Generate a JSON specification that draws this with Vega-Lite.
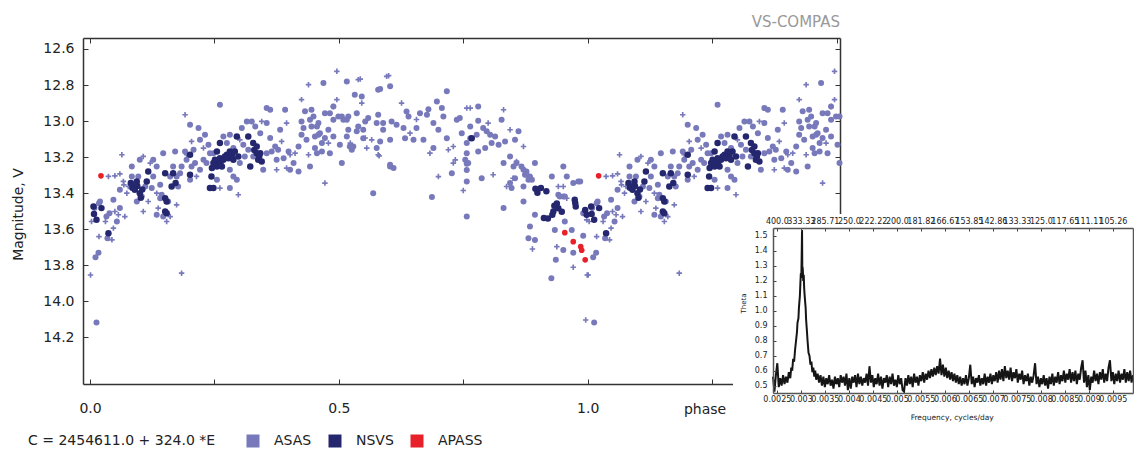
{
"$schema":"https://vega.github.io/schema/vega-lite/v6.json",
"autosize":"none",
"width":757,"height":346,
"padding":{"left":83,"top":38,"right":294,"bottom":67},
"background":"white",
"config":{"font":"DejaVu Sans","view":{"stroke":null},"axis":{"grid":false,"labelFlush":false,"labelBound":false,"labelOverlap":false}},
"title":{"text":"VS-COMPAS","anchor":"end","frame":"group","fontSize":15,"fontWeight":"normal","color":"#999999","offset":8},
"datasets":{
"ac":[{"p":0.001,"m":13.854},{"p":0.003,"m":13.557},{"p":0.018,"m":13.641},{"p":0.031,"m":13.557},{"p":0.037,"m":13.307},{"p":0.044,"m":13.659},{"p":0.047,"m":13.594},{"p":0.05,"m":13.304},{"p":0.05,"m":13.502},{"p":0.057,"m":13.52},{"p":0.06,"m":13.293},{"p":0.064,"m":13.187},{"p":0.067,"m":13.335},{"p":0.068,"m":13.354},{"p":0.07,"m":13.53},{"p":0.074,"m":13.4},{"p":0.077,"m":13.363},{"p":0.107,"m":13.502},{"p":0.107,"m":13.196},{"p":0.117,"m":13.446},{"p":0.121,"m":13.233},{"p":0.134,"m":13.4},{"p":0.137,"m":13.483},{"p":0.154,"m":13.557},{"p":0.161,"m":13.53},{"p":0.174,"m":13.465},{"p":0.184,"m":13.844},{"p":0.191,"m":12.965},{"p":0.194,"m":13.187},{"p":0.204,"m":13.113},{"p":0.214,"m":13.307},{"p":0.228,"m":13.15},{"p":0.261,"m":13.372},{"p":0.298,"m":13.409},{"p":0.301,"m":13.104},{"p":0.345,"m":13.002},{"p":0.375,"m":13.27},{"p":0.385,"m":13.113},{"p":0.395,"m":13.011},{"p":0.395,"m":13.261},{"p":0.402,"m":13.187},{"p":0.412,"m":13.178},{"p":0.425,"m":12.881},{"p":0.439,"m":12.798},{"p":0.439,"m":13.187},{"p":0.472,"m":13.344},{"p":0.479,"m":13.122},{"p":0.489,"m":12.919},{"p":0.496,"m":12.724},{"p":0.496,"m":12.881},
{"p":0.523,"m":13.122},{"p":0.539,"m":12.77},{"p":0.543,"m":12.767},{"p":0.546,"m":12.9},{"p":0.553,"m":13.094},{"p":0.556,"m":13.15},{"p":0.566,"m":13.104},{"p":0.579,"m":13.187},{"p":0.581,"m":13.193},{"p":0.596,"m":12.752},{"p":0.6,"m":12.748},{"p":0.626,"m":12.9},{"p":0.643,"m":13.067},{"p":0.656,"m":12.991},{"p":0.683,"m":13.178},{"p":0.7,"m":13.308},{"p":0.72,"m":13.159},{"p":0.73,"m":13.141},{"p":0.73,"m":13.233},{"p":0.734,"m":13.215},{"p":0.75,"m":13.385},{"p":0.757,"m":12.928},{"p":0.764,"m":12.928},{"p":0.8,"m":13.011},{"p":0.81,"m":13.298},{"p":0.831,"m":12.937},{"p":0.837,"m":13.363},{"p":0.844,"m":13.048},{"p":0.85,"m":13.317},{"p":0.857,"m":13.224},{"p":0.871,"m":13.141},{"p":0.889,"m":13.71},{"p":0.938,"m":13.697},{"p":0.941,"m":13.363},{"p":0.951,"m":13.363},{"p":0.958,"m":13.428},{"p":0.971,"m":13.811},{"p":0.996,"m":14.104},{"p":0.998,"m":13.548},{"p":0.999,"m":13.854},
{"p":1.001,"m":13.854},{"p":1.003,"m":13.557},{"p":1.018,"m":13.641},{"p":1.031,"m":13.557},{"p":1.037,"m":13.307},{"p":1.044,"m":13.659},{"p":1.047,"m":13.594},{"p":1.05,"m":13.304},{"p":1.05,"m":13.502},{"p":1.057,"m":13.52},{"p":1.06,"m":13.293},{"p":1.064,"m":13.187},{"p":1.067,"m":13.335},{"p":1.068,"m":13.354},{"p":1.07,"m":13.53},{"p":1.074,"m":13.4},{"p":1.077,"m":13.363},{"p":1.107,"m":13.502},{"p":1.107,"m":13.196},{"p":1.117,"m":13.446},{"p":1.121,"m":13.233},{"p":1.134,"m":13.4},{"p":1.137,"m":13.483},{"p":1.154,"m":13.557},{"p":1.161,"m":13.53},{"p":1.174,"m":13.465},{"p":1.184,"m":13.844},{"p":1.191,"m":12.965},{"p":1.194,"m":13.187},{"p":1.204,"m":13.113},{"p":1.214,"m":13.307},{"p":1.228,"m":13.15},{"p":1.261,"m":13.372},{"p":1.298,"m":13.409},{"p":1.301,"m":13.104},{"p":1.345,"m":13.002},{"p":1.375,"m":13.27},{"p":1.385,"m":13.113},{"p":1.395,"m":13.011},{"p":1.395,"m":13.261},{"p":1.402,"m":13.187},{"p":1.412,"m":13.178},{"p":1.425,"m":12.881},{"p":1.439,"m":12.798},{"p":1.439,"m":13.187},{"p":1.472,"m":13.344},{"p":1.479,"m":13.122},{"p":1.489,"m":12.919},{"p":1.496,"m":12.724},{"p":1.496,"m":12.881}],
"ad":[{"p":0.009,"m":13.483},{"p":0.011,"m":13.756},{"p":0.013,"m":14.118},{"p":0.017,"m":13.73},{"p":0.018,"m":13.456},{"p":0.02,"m":13.446},{"p":0.033,"m":13.53},{"p":0.035,"m":13.65},{"p":0.039,"m":13.511},{"p":0.047,"m":13.437},{"p":0.054,"m":13.557},{"p":0.06,"m":13.483},{"p":0.06,"m":13.381},{"p":0.084,"m":13.307},{"p":0.084,"m":13.252},{"p":0.094,"m":13.446},{"p":0.097,"m":13.307},{"p":0.1,"m":13.215},{"p":0.104,"m":13.419},{"p":0.111,"m":13.363},{"p":0.124,"m":13.372},{"p":0.127,"m":13.307},{"p":0.127,"m":13.215},{"p":0.134,"m":13.52},{"p":0.134,"m":13.252},{"p":0.141,"m":13.428},{"p":0.141,"m":13.354},{"p":0.144,"m":13.409},{"p":0.147,"m":13.53},{"p":0.147,"m":13.178},{"p":0.157,"m":13.446},{"p":0.161,"m":13.307},{"p":0.167,"m":13.252},{"p":0.171,"m":13.169},{"p":0.174,"m":13.307},{"p":0.177,"m":13.363},{"p":0.181,"m":13.289},{"p":0.184,"m":13.252},{"p":0.191,"m":13.169},{"p":0.194,"m":13.215},{"p":0.201,"m":13.326},{"p":0.201,"m":13.02},{"p":0.204,"m":13.252},{"p":0.208,"m":13.159},{"p":0.211,"m":13.233},{"p":0.218,"m":13.039},{"p":0.221,"m":13.104},{"p":0.221,"m":13.27},{"p":0.228,"m":13.215},{"p":0.231,"m":13.076},{"p":0.234,"m":13.233},{"p":0.238,"m":13.131},{"p":0.241,"m":13.178},{"p":0.248,"m":13.178},{"p":0.255,"m":13.326},{"p":0.261,"m":12.909},{"p":0.268,"m":13.085},{"p":0.275,"m":13.122},{"p":0.281,"m":13.27},{"p":0.281,"m":13.372},{"p":0.281,"m":13.076},{"p":0.288,"m":13.307},{"p":0.288,"m":13.15},{"p":0.295,"m":13.326},{"p":0.301,"m":13.233},{"p":0.305,"m":13.039},{"p":0.308,"m":13.131},{"p":0.311,"m":13.196},{"p":0.315,"m":13.002},{"p":0.318,"m":13.159},{"p":0.325,"m":13.002},{"p":0.328,"m":13.196},{"p":0.332,"m":13.03},{"p":0.342,"m":13.067},{"p":0.348,"m":13.27},{"p":0.355,"m":12.928},{"p":0.355,"m":13.011},{"p":0.355,"m":13.178},{"p":0.362,"m":12.937},{"p":0.362,"m":13.094},{"p":0.365,"m":13.169},{"p":0.372,"m":13.141},{"p":0.375,"m":13.215},{"p":0.378,"m":13.159},{"p":0.382,"m":13.048},{"p":0.389,"m":13.206},{"p":0.392,"m":12.937},{"p":0.399,"m":13.169},{"p":0.402,"m":13.27},{"p":0.409,"m":13.233},{"p":0.419,"m":13.28},{"p":0.419,"m":13.141},{"p":0.425,"m":13.076},{"p":0.425,"m":13.002},{"p":0.429,"m":13.039},{"p":0.432,"m":12.946},{"p":0.435,"m":13.104},{"p":0.442,"m":13.252},{"p":0.442,"m":12.993},{"p":0.445,"m":12.937},{"p":0.445,"m":13.03},{"p":0.449,"m":12.974},{"p":0.452,"m":13.15},{"p":0.452,"m":13.085},{"p":0.456,"m":13.03},{"p":0.456,"m":13.178},{"p":0.459,"m":13.011},{"p":0.459,"m":13.076},{"p":0.462,"m":13.067},{"p":0.466,"m":13.122},{"p":0.466,"m":13.169},{"p":0.469,"m":12.789},{"p":0.472,"m":12.956},{"p":0.472,"m":13.094},{"p":0.479,"m":13.048},{"p":0.482,"m":13.178},{"p":0.482,"m":12.956},{"p":0.489,"m":13.085},{"p":0.489,"m":12.993},{"p":0.489,"m":12.919},{"p":0.499,"m":12.974},{"p":0.502,"m":13.131},{"p":0.506,"m":13.233},{"p":0.506,"m":12.974},
{"p":0.509,"m":12.993},{"p":0.516,"m":12.78},{"p":0.516,"m":13.085},{"p":0.516,"m":12.993},{"p":0.519,"m":12.974},{"p":0.519,"m":13.048},{"p":0.522,"m":13.141},{"p":0.526,"m":13.159},{"p":0.529,"m":13.141},{"p":0.532,"m":12.854},{"p":0.536,"m":12.956},{"p":0.536,"m":13.057},{"p":0.539,"m":13.03},{"p":0.546,"m":12.863},{"p":0.549,"m":13.048},{"p":0.549,"m":13.095},{"p":0.553,"m":13.002},{"p":0.559,"m":12.983},{"p":0.569,"m":13.4},{"p":0.576,"m":13.15},{"p":0.576,"m":13.011},{"p":0.579,"m":12.826},{"p":0.579,"m":12.965},{"p":0.583,"m":12.822},{"p":0.583,"m":13.113},{"p":0.589,"m":13.011},{"p":0.589,"m":13.048},{"p":0.603,"m":12.807},{"p":0.603,"m":13.243},{"p":0.603,"m":13.104},{"p":0.603,"m":13.252},{"p":0.606,"m":13.002},{"p":0.61,"m":13.261},{"p":0.616,"m":13.021},{"p":0.63,"m":13.039},{"p":0.633,"m":13.095},{"p":0.636,"m":12.947},{"p":0.64,"m":12.974},{"p":0.65,"m":13.104},{"p":0.656,"m":13.039},{"p":0.663,"m":12.956},{"p":0.67,"m":13.104},{"p":0.677,"m":12.965},{"p":0.68,"m":12.934},{"p":0.687,"m":13.422},{"p":0.69,"m":13.011},{"p":0.69,"m":13.15},{"p":0.697,"m":12.891},{"p":0.7,"m":13.048},{"p":0.707,"m":12.928},{"p":0.71,"m":12.974},{"p":0.717,"m":12.835},{"p":0.717,"m":13.095},{"p":0.727,"m":13.289},{"p":0.737,"m":12.993},{"p":0.743,"m":12.983},{"p":0.747,"m":13.067},{"p":0.754,"m":13.215},{"p":0.757,"m":13.122},{"p":0.757,"m":13.178},{"p":0.757,"m":13.237},{"p":0.757,"m":13.271},{"p":0.757,"m":13.335},{"p":0.757,"m":13.53},{"p":0.76,"m":13.233},{"p":0.764,"m":13.03},{"p":0.764,"m":13.095},{"p":0.777,"m":13.076},{"p":0.78,"m":12.919},{"p":0.78,"m":12.998},{"p":0.78,"m":13.169},{"p":0.787,"m":13.317},{"p":0.79,"m":13.039},{"p":0.794,"m":13.15},{"p":0.797,"m":13.057},{"p":0.804,"m":13.076},{"p":0.807,"m":13.122},{"p":0.814,"m":13.085},{"p":0.821,"m":13.132},{"p":0.827,"m":12.993},{"p":0.831,"m":13.233},{"p":0.831,"m":13.483},{"p":0.834,"m":13.113},{"p":0.844,"m":13.196},{"p":0.844,"m":13.344},{"p":0.847,"m":13.372},{"p":0.851,"m":13.252},{"p":0.854,"m":13.104},{"p":0.854,"m":13.317},{"p":0.857,"m":13.233},{"p":0.861,"m":13.057},{"p":0.867,"m":13.252},{"p":0.871,"m":13.27},{"p":0.871,"m":13.363},{"p":0.871,"m":13.446},{"p":0.874,"m":13.298},{"p":0.877,"m":13.28},{"p":0.877,"m":13.298},{"p":0.881,"m":13.326},{"p":0.881,"m":13.65},{"p":0.884,"m":13.308},{"p":0.884,"m":13.585},{"p":0.888,"m":13.326},{"p":0.894,"m":13.233},{"p":0.894,"m":13.52},{"p":0.894,"m":13.66},{"p":0.927,"m":13.872},{"p":0.928,"m":13.308},{"p":0.934,"m":13.604},{"p":0.936,"m":13.77},{"p":0.941,"m":13.409},{"p":0.944,"m":13.419},{"p":0.951,"m":13.252},{"p":0.951,"m":13.419},{"p":0.951,"m":13.715},{"p":0.954,"m":13.419},{"p":0.954,"m":13.557},{"p":0.958,"m":13.308},{"p":0.968,"m":13.604},{"p":0.971,"m":13.344},{"p":0.971,"m":13.73},{"p":0.981,"m":13.335},{"p":0.985,"m":13.335},{"p":0.991,"m":13.511},{"p":0.991,"m":13.637},
{"p":1.009,"m":13.483},{"p":1.011,"m":13.756},{"p":1.013,"m":14.118},{"p":1.017,"m":13.73},{"p":1.018,"m":13.456},{"p":1.02,"m":13.446},{"p":1.033,"m":13.53},{"p":1.035,"m":13.65},{"p":1.039,"m":13.511},{"p":1.047,"m":13.437},{"p":1.054,"m":13.557},{"p":1.06,"m":13.483},{"p":1.06,"m":13.381},{"p":1.084,"m":13.307},{"p":1.084,"m":13.252},{"p":1.094,"m":13.446},{"p":1.097,"m":13.307},{"p":1.1,"m":13.215},{"p":1.104,"m":13.419},{"p":1.111,"m":13.363},{"p":1.124,"m":13.372},{"p":1.127,"m":13.307},{"p":1.127,"m":13.215},{"p":1.134,"m":13.52},{"p":1.134,"m":13.252},{"p":1.141,"m":13.428},{"p":1.141,"m":13.354},{"p":1.144,"m":13.409},{"p":1.147,"m":13.53},{"p":1.147,"m":13.178},{"p":1.157,"m":13.446},{"p":1.161,"m":13.307},{"p":1.167,"m":13.252},{"p":1.171,"m":13.169},{"p":1.174,"m":13.307},{"p":1.177,"m":13.363},{"p":1.181,"m":13.289},{"p":1.184,"m":13.252},{"p":1.191,"m":13.169},{"p":1.194,"m":13.215},{"p":1.201,"m":13.326},{"p":1.201,"m":13.02},{"p":1.204,"m":13.252},{"p":1.208,"m":13.159},{"p":1.211,"m":13.233},{"p":1.218,"m":13.039},{"p":1.221,"m":13.104},{"p":1.221,"m":13.27},{"p":1.228,"m":13.215},{"p":1.231,"m":13.076},{"p":1.234,"m":13.233},{"p":1.238,"m":13.131},{"p":1.241,"m":13.178},{"p":1.248,"m":13.178},{"p":1.255,"m":13.326},{"p":1.261,"m":12.909},{"p":1.268,"m":13.085},{"p":1.275,"m":13.122},{"p":1.281,"m":13.27},{"p":1.281,"m":13.372},{"p":1.281,"m":13.076},{"p":1.288,"m":13.307},{"p":1.288,"m":13.15},{"p":1.295,"m":13.326},{"p":1.301,"m":13.233},{"p":1.305,"m":13.039},{"p":1.308,"m":13.131},{"p":1.311,"m":13.196},{"p":1.315,"m":13.002},{"p":1.318,"m":13.159},{"p":1.325,"m":13.002},{"p":1.328,"m":13.196},{"p":1.332,"m":13.03},{"p":1.342,"m":13.067},{"p":1.348,"m":13.27},{"p":1.355,"m":12.928},{"p":1.355,"m":13.011},{"p":1.355,"m":13.178},{"p":1.362,"m":12.937},{"p":1.362,"m":13.094},{"p":1.365,"m":13.169},{"p":1.372,"m":13.141},{"p":1.375,"m":13.215},{"p":1.378,"m":13.159},{"p":1.382,"m":13.048},{"p":1.389,"m":13.206},{"p":1.392,"m":12.937},{"p":1.399,"m":13.169},{"p":1.402,"m":13.27},{"p":1.409,"m":13.233},{"p":1.419,"m":13.28},{"p":1.419,"m":13.141},{"p":1.425,"m":13.076},{"p":1.425,"m":13.002},{"p":1.429,"m":13.039},{"p":1.432,"m":12.946},{"p":1.435,"m":13.104},{"p":1.442,"m":13.252},{"p":1.442,"m":12.993},{"p":1.445,"m":12.937},{"p":1.445,"m":13.03},{"p":1.449,"m":12.974},{"p":1.452,"m":13.15},{"p":1.452,"m":13.085},{"p":1.456,"m":13.03},{"p":1.456,"m":13.178},{"p":1.459,"m":13.011},{"p":1.459,"m":13.076},{"p":1.462,"m":13.067},{"p":1.466,"m":13.122},{"p":1.466,"m":13.169},{"p":1.469,"m":12.789},{"p":1.472,"m":12.956},{"p":1.472,"m":13.094},{"p":1.479,"m":13.048},{"p":1.482,"m":13.178},{"p":1.482,"m":12.956},{"p":1.489,"m":13.085},{"p":1.489,"m":12.993},{"p":1.489,"m":12.919},{"p":1.499,"m":12.974},{"p":1.502,"m":13.131},{"p":1.506,"m":13.233},{"p":1.506,"m":12.974}],
"nv":[{"p":0.007,"m":13.474},{"p":0.008,"m":13.515},{"p":0.013,"m":13.548},{"p":0.023,"m":13.483},{"p":0.037,"m":13.622},{"p":0.082,"m":13.344},{"p":0.085,"m":13.37},{"p":0.087,"m":13.363},{"p":0.09,"m":13.381},{"p":0.094,"m":13.335},{"p":0.095,"m":13.36},{"p":0.1,"m":13.4},{"p":0.102,"m":13.425},{"p":0.105,"m":13.38},{"p":0.114,"m":13.335},{"p":0.117,"m":13.28},{"p":0.151,"m":13.289},{"p":0.151,"m":13.428},{"p":0.151,"m":13.502},{"p":0.154,"m":13.446},{"p":0.154,"m":13.511},{"p":0.164,"m":13.363},{"p":0.167,"m":13.289},{"p":0.172,"m":13.344},{"p":0.201,"m":13.187},{"p":0.201,"m":13.298},{"p":0.241,"m":13.372},{"p":0.244,"m":13.307},{"p":0.245,"m":13.26},{"p":0.248,"m":13.372},{"p":0.248,"m":13.233},{"p":0.251,"m":13.215},{"p":0.255,"m":13.252},{"p":0.255,"m":13.169},{"p":0.258,"m":13.233},{"p":0.261,"m":13.206},{"p":0.261,"m":13.122},{"p":0.262,"m":13.24},{"p":0.265,"m":13.252},{"p":0.268,"m":13.215},{"p":0.271,"m":13.196},{"p":0.275,"m":13.187},{"p":0.278,"m":13.206},{"p":0.281,"m":13.169},{"p":0.285,"m":13.19},{"p":0.288,"m":13.215},{"p":0.291,"m":13.169},{"p":0.295,"m":13.085},{"p":0.298,"m":13.196},{"p":0.318,"m":13.085},{"p":0.322,"m":13.252},{"p":0.328,"m":13.122},{"p":0.33,"m":13.16},{"p":0.335,"m":13.141},{"p":0.335,"m":13.178},{"p":0.338,"m":13.215},{"p":0.34,"m":13.196},{"p":0.342,"m":13.178},{"p":0.345,"m":13.224},
{"p":0.767,"m":13.095},{"p":0.895,"m":13.375},{"p":0.899,"m":13.398},{"p":0.906,"m":13.372},{"p":0.912,"m":13.538},{"p":0.917,"m":13.39},{"p":0.92,"m":13.54},{"p":0.929,"m":13.52},{"p":0.931,"m":13.502},{"p":0.933,"m":13.47},{"p":0.938,"m":13.458},{"p":0.941,"m":13.484},{"p":0.948,"m":13.503},{"p":0.974,"m":13.437},{"p":0.975,"m":13.455},{"p":0.976,"m":13.474},{"p":0.995,"m":13.493},{"p":0.998,"m":13.52},
{"p":1.007,"m":13.474},{"p":1.008,"m":13.515},{"p":1.013,"m":13.548},{"p":1.023,"m":13.483},{"p":1.037,"m":13.622},{"p":1.082,"m":13.344},{"p":1.085,"m":13.37},{"p":1.087,"m":13.363},{"p":1.09,"m":13.381},{"p":1.094,"m":13.335},{"p":1.095,"m":13.36},{"p":1.1,"m":13.4},{"p":1.102,"m":13.425},{"p":1.105,"m":13.38},{"p":1.114,"m":13.335},{"p":1.117,"m":13.28},{"p":1.151,"m":13.289},{"p":1.151,"m":13.428},{"p":1.151,"m":13.502},{"p":1.154,"m":13.446},{"p":1.154,"m":13.511},{"p":1.164,"m":13.363},{"p":1.167,"m":13.289},{"p":1.172,"m":13.344},{"p":1.201,"m":13.187},{"p":1.201,"m":13.298},{"p":1.241,"m":13.372},{"p":1.244,"m":13.307},{"p":1.245,"m":13.26},{"p":1.248,"m":13.372},{"p":1.248,"m":13.233},{"p":1.251,"m":13.215},{"p":1.255,"m":13.252},{"p":1.255,"m":13.169},{"p":1.258,"m":13.233},{"p":1.261,"m":13.206},{"p":1.261,"m":13.122},{"p":1.262,"m":13.24},{"p":1.265,"m":13.252},{"p":1.268,"m":13.215},{"p":1.271,"m":13.196},{"p":1.275,"m":13.187},{"p":1.278,"m":13.206},{"p":1.281,"m":13.169},{"p":1.285,"m":13.19},{"p":1.288,"m":13.215},{"p":1.291,"m":13.169},{"p":1.295,"m":13.085},{"p":1.298,"m":13.196},{"p":1.318,"m":13.085},{"p":1.322,"m":13.252},{"p":1.328,"m":13.122},{"p":1.33,"m":13.16},{"p":1.335,"m":13.141},{"p":1.335,"m":13.178},{"p":1.338,"m":13.215},{"p":1.34,"m":13.196},{"p":1.342,"m":13.178},{"p":1.345,"m":13.224}],
"ap":[{"p":0.022,"m":13.304},{"p":1.022,"m":13.304},{"p":0.954,"m":13.619},{"p":0.971,"m":13.669},{"p":0.986,"m":13.697},{"p":0.988,"m":13.717},{"p":0.995,"m":13.77}],
"th":[{"f":0.00242,"t":0.56},{"f":0.00245,"t":0.46},{"f":0.00248,"t":0.57},{"f":0.00251,"t":0.65},{"f":0.00254,"t":0.49},{"f":0.00257,"t":0.55},{"f":0.0026,"t":0.5},{"f":0.00263,"t":0.57},{"f":0.00266,"t":0.51},{"f":0.00269,"t":0.56},{"f":0.00272,"t":0.52},{"f":0.00275,"t":0.59},{"f":0.00278,"t":0.55},{"f":0.0028,"t":0.62},{"f":0.00282,"t":0.6},{"f":0.00284,"t":0.68},{"f":0.00286,"t":0.66},{"f":0.00288,"t":0.74},{"f":0.0029,"t":0.8},{"f":0.00292,"t":0.86},{"f":0.00293,"t":0.92},{"f":0.00295,"t":0.95},{"f":0.00296,"t":1.02},{"f":0.00298,"t":1.1},{"f":0.00299,"t":1.18},{"f":0.003,"t":1.25},{"f":0.00301,"t":1.22},{"f":0.00302,"t":1.42},{"f":0.003025,"t":1.54},{"f":0.00303,"t":1.3},{"f":0.00304,"t":1.28},{"f":0.00305,"t":1.2},{"f":0.00306,"t":1.24},{"f":0.00307,"t":1.15},{"f":0.00308,"t":1.1},{"f":0.0031,"t":1.02},{"f":0.00311,"t":0.94},{"f":0.00313,"t":0.85},{"f":0.00314,"t":0.8},{"f":0.00316,"t":0.72},{"f":0.00318,"t":0.7},{"f":0.0032,"t":0.64},{"f":0.00322,"t":0.66},{"f":0.00324,"t":0.59},{"f":0.00326,"t":0.62},{"f":0.00328,"t":0.56},{"f":0.0033,"t":0.6},{"f":0.00332,"t":0.54},{"f":0.00335,"t":0.58},{"f":0.00338,"t":0.52},{"f":0.00341,"t":0.57},{"f":0.00344,"t":0.5},{"f":0.00347,"t":0.56},{"f":0.0035,"t":0.49},{"f":0.00353,"t":0.55},{"f":0.00356,"t":0.51},{"f":0.00359,"t":0.57},{"f":0.00362,"t":0.5},{"f":0.00365,"t":0.54},{"f":0.00368,"t":0.48},{"f":0.00371,"t":0.56},{"f":0.00374,"t":0.51},{"f":0.00377,"t":0.55},{"f":0.0038,"t":0.49},{"f":0.00383,"t":0.57},{"f":0.00386,"t":0.52},{"f":0.00389,"t":0.56},{"f":0.00392,"t":0.5},{"f":0.00395,"t":0.58},{"f":0.00398,"t":0.47},{"f":0.00401,"t":0.55},{"f":0.00404,"t":0.48},{"f":0.00407,"t":0.56},{"f":0.0041,"t":0.52},{"f":0.00413,"t":0.57},{"f":0.00416,"t":0.49},{"f":0.00419,"t":0.58},{"f":0.00422,"t":0.51},{"f":0.00425,"t":0.56},{"f":0.00428,"t":0.5},{"f":0.00431,"t":0.55},{"f":0.00434,"t":0.52},{"f":0.00437,"t":0.58},{"f":0.0044,"t":0.5},{"f":0.00443,"t":0.63},{"f":0.00446,"t":0.52},{"f":0.00449,"t":0.57},{"f":0.00452,"t":0.49},{"f":0.00455,"t":0.55},{"f":0.00458,"t":0.51},{"f":0.00461,"t":0.58},{"f":0.00464,"t":0.5},{"f":0.00467,"t":0.56},{"f":0.0047,"t":0.48},{"f":0.00473,"t":0.55},{"f":0.00476,"t":0.52},{"f":0.00479,"t":0.57},{"f":0.00482,"t":0.49},{"f":0.00485,"t":0.56},{"f":0.00488,"t":0.51},{"f":0.00491,"t":0.58},{"f":0.00494,"t":0.5},{"f":0.00497,"t":0.54},{"f":0.005,"t":0.49},{"f":0.00503,"t":0.57},{"f":0.00506,"t":0.51},{"f":0.00509,"t":0.55},{"f":0.00512,"t":0.47},{"f":0.00515,"t":0.46},{"f":0.00518,"t":0.55},{"f":0.00521,"t":0.5},{"f":0.00524,"t":0.57},{"f":0.00527,"t":0.51},{"f":0.0053,"t":0.56},{"f":0.00533,"t":0.49},{"f":0.00536,"t":0.58},{"f":0.00539,"t":0.52},{"f":0.00542,"t":0.56},{"f":0.00545,"t":0.5},{"f":0.00548,"t":0.57},{"f":0.00551,"t":0.53},{"f":0.00554,"t":0.59},{"f":0.00557,"t":0.52},{"f":0.0056,"t":0.58},{"f":0.00563,"t":0.54},{"f":0.00566,"t":0.6},{"f":0.00569,"t":0.55},{"f":0.00572,"t":0.61},{"f":0.00575,"t":0.56},{"f":0.00578,"t":0.62},{"f":0.00581,"t":0.57},{"f":0.00584,"t":0.63},{"f":0.00587,"t":0.58},{"f":0.0059,"t":0.68},{"f":0.00593,"t":0.57},{"f":0.00596,"t":0.64},{"f":0.00599,"t":0.56},{"f":0.00602,"t":0.62},{"f":0.00605,"t":0.55},{"f":0.00608,"t":0.6},{"f":0.00611,"t":0.54},{"f":0.00614,"t":0.59},{"f":0.00617,"t":0.53},{"f":0.0062,"t":0.58},{"f":0.00623,"t":0.52},{"f":0.00626,"t":0.57},{"f":0.00629,"t":0.51},{"f":0.00632,"t":0.56},{"f":0.00635,"t":0.5},{"f":0.00638,"t":0.55},{"f":0.00641,"t":0.51},{"f":0.00644,"t":0.57},{"f":0.00647,"t":0.5},{"f":0.0065,"t":0.55},{"f":0.00653,"t":0.64},{"f":0.00656,"t":0.51},{"f":0.00659,"t":0.56},{"f":0.00662,"t":0.49},{"f":0.00665,"t":0.55},{"f":0.00668,"t":0.52},{"f":0.00671,"t":0.57},{"f":0.00674,"t":0.5},{"f":0.00677,"t":0.55},{"f":0.0068,"t":0.51},{"f":0.00683,"t":0.58},{"f":0.00686,"t":0.5},{"f":0.00689,"t":0.56},{"f":0.00692,"t":0.52},{"f":0.00695,"t":0.58},{"f":0.00698,"t":0.51},{"f":0.00701,"t":0.57},{"f":0.00704,"t":0.53},{"f":0.00707,"t":0.59},{"f":0.0071,"t":0.52},{"f":0.00713,"t":0.6},{"f":0.00716,"t":0.54},{"f":0.00719,"t":0.61},{"f":0.00722,"t":0.53},{"f":0.00725,"t":0.63},{"f":0.00728,"t":0.55},{"f":0.00731,"t":0.6},{"f":0.00734,"t":0.54},{"f":0.00737,"t":0.62},{"f":0.0074,"t":0.53},{"f":0.00743,"t":0.59},{"f":0.00746,"t":0.55},{"f":0.00749,"t":0.61},{"f":0.00752,"t":0.52},{"f":0.00755,"t":0.58},{"f":0.00758,"t":0.54},{"f":0.00761,"t":0.6},{"f":0.00764,"t":0.51},{"f":0.00767,"t":0.57},{"f":0.0077,"t":0.53},{"f":0.00773,"t":0.58},{"f":0.00776,"t":0.5},{"f":0.00779,"t":0.56},{"f":0.00782,"t":0.52},{"f":0.00785,"t":0.57},{"f":0.00788,"t":0.65},{"f":0.00791,"t":0.51},{"f":0.00794,"t":0.56},{"f":0.00797,"t":0.49},{"f":0.008,"t":0.55},{"f":0.00803,"t":0.51},{"f":0.00806,"t":0.57},{"f":0.00809,"t":0.5},{"f":0.00812,"t":0.55},{"f":0.00815,"t":0.48},{"f":0.00818,"t":0.56},{"f":0.00821,"t":0.51},{"f":0.00824,"t":0.58},{"f":0.00827,"t":0.5},{"f":0.0083,"t":0.56},{"f":0.00833,"t":0.52},{"f":0.00836,"t":0.59},{"f":0.00839,"t":0.51},{"f":0.00842,"t":0.57},{"f":0.00845,"t":0.53},{"f":0.00848,"t":0.6},{"f":0.00851,"t":0.52},{"f":0.00854,"t":0.58},{"f":0.00857,"t":0.54},{"f":0.0086,"t":0.61},{"f":0.00863,"t":0.52},{"f":0.00866,"t":0.59},{"f":0.00869,"t":0.53},{"f":0.00872,"t":0.6},{"f":0.00875,"t":0.51},{"f":0.00878,"t":0.58},{"f":0.00881,"t":0.54},{"f":0.00884,"t":0.62},{"f":0.00887,"t":0.67},{"f":0.0089,"t":0.52},{"f":0.00893,"t":0.6},{"f":0.00896,"t":0.49},{"f":0.00899,"t":0.57},{"f":0.00902,"t":0.47},{"f":0.00905,"t":0.56},{"f":0.00908,"t":0.52},{"f":0.00911,"t":0.6},{"f":0.00914,"t":0.53},{"f":0.00917,"t":0.58},{"f":0.0092,"t":0.51},{"f":0.00923,"t":0.59},{"f":0.00926,"t":0.54},{"f":0.00929,"t":0.61},{"f":0.00932,"t":0.52},{"f":0.00935,"t":0.58},{"f":0.00938,"t":0.53},{"f":0.00941,"t":0.62},{"f":0.00944,"t":0.67},{"f":0.00947,"t":0.53},{"f":0.0095,"t":0.59},{"f":0.00953,"t":0.51},{"f":0.00956,"t":0.58},{"f":0.00959,"t":0.53},{"f":0.00962,"t":0.6},{"f":0.00965,"t":0.52},{"f":0.00968,"t":0.58},{"f":0.00971,"t":0.54},{"f":0.00974,"t":0.61},{"f":0.00977,"t":0.52},{"f":0.0098,"t":0.59},{"f":0.00983,"t":0.53},{"f":0.00986,"t":0.6},{"f":0.00989,"t":0.52},{"f":0.00992,"t":0.57}]
},
"layer":[
{"layer":[
 {"data":{"name":"ac"},
  "mark":{"type":"point","filled":true,"opacity":1,"strokeWidth":0,"size":30,"shape":"M-1,-0.3H1V0.3H-1Z M-0.3,-1H0.3V1H-0.3Z"},
  "encoding":{
   "x":{"field":"p","type":"quantitative","scale":{"domain":[-0.0141,1.507],"nice":false,"zero":false},
    "axis":{"orient":"bottom","values":[0,0.25,0.5,0.75,1,1.25,1.5],"labelExpr":"datum.value % 0.5 === 0 ? format(datum.value,'.1f') : ''","tickSize":-5,"tickColor":"#333","domainColor":"#333","domainWidth":1.5,"labelFontSize":14,"labelColor":"#222","labelPadding":22,"title":"phase","titleX":621.5,"titleY":29,"titleBaseline":"alphabetic","titleAlign":"center","titleFontSize":14,"titleFontWeight":"normal","titleColor":"#222","zindex":0}},
   "y":{"field":"m","type":"quantitative","scale":{"domain":[12.539,14.459],"nice":false,"zero":false,"reverse":true},
    "axis":{"orient":"left","values":[12.6,12.8,13,13.2,13.4,13.6,13.8,14,14.2],"format":".1f","tickSize":-5,"tickColor":"#333","domainColor":"#333","domainWidth":1.5,"labelFontSize":14,"labelColor":"#222","labelPadding":14,"title":"Magnitude, V","titleX":-64.5,"titleY":176,"titleAngle":-90,"titleAlign":"center","titleBaseline":"middle","titleFontSize":14,"titleFontWeight":"normal","titleColor":"#222","zindex":0}},
   "color":{"datum":"ASAS","type":"nominal","scale":{"domain":["ASAS","NSVS","APASS"],"range":["#7779bb","#25276e","#e8202a"]},
    "legend":{"orient":"none","legendX":-55,"legendY":396,"direction":"horizontal","title":"C = 2454611.0 + 324.0 *E","titleLimit":500,"titleOrient":"left","titleFontSize":14,"titleFontWeight":"normal","titleColor":"#222","titlePadding":30,"symbolType":"square","symbolSize":169,"symbolStrokeWidth":0,"symbolOpacity":1,"labelFontSize":14,"labelColor":"#222","labelOffset":14,"columnPadding":16,"padding":0,
     "encode":{"symbols":{"update":{"shape":{"value":"square"},"opacity":{"value":1},"strokeWidth":{"value":0}}}}}}
  }},
 {"data":{"name":"ad"},
  "mark":{"type":"circle","opacity":1,"size":36},
  "encoding":{
   "x":{"field":"p","type":"quantitative","axis":{"orient":"top","values":[0,0.25,0.5,0.75,1,1.25,1.5],"labels":false,"tickSize":-5,"tickColor":"#333","domainColor":"#333","domainWidth":1.5,"title":null,"zindex":0}},
   "y":{"field":"m","type":"quantitative","axis":{"orient":"right","values":[12.6,12.8,13,13.2,13.4,13.6,13.8,14,14.2],"labels":false,"tickSize":-5,"tickColor":"#333","domainColor":"#333","domainWidth":1.5,"title":null,"zindex":0}},
   "color":{"datum":"ASAS","type":"nominal"}
  }},
 {"data":{"name":"nv"},
  "mark":{"type":"circle","opacity":1,"size":42},
  "encoding":{
   "x":{"field":"p","type":"quantitative","axis":null},
   "y":{"field":"m","type":"quantitative","axis":null},
   "color":{"datum":"NSVS","type":"nominal"}
  }},
 {"data":{"name":"ap"},
  "mark":{"type":"circle","opacity":1,"size":32},
  "encoding":{
   "x":{"field":"p","type":"quantitative","axis":null},
   "y":{"field":"m","type":"quantitative","axis":null},
   "color":{"datum":"APASS","type":"nominal"}
  }}
 ],
 "resolve":{"scale":{"x":"shared","y":"shared"},"axis":{"x":"independent","y":"independent"}}
},
{"layer":[
 {"data":{"values":[{"x1":0.001587,"x2":0.0102,"y1":1.647,"y2":0.06}]},
  "mark":{"type":"rect","fill":"white"},
  "encoding":{
   "x":{"field":"x1","type":"quantitative","scale":{"domain":[0.00242,0.00992],"range":[690,1050],"nice":false,"zero":false},
    "axis":{"orient":"bottom","offset":9,"values":[0.0025,0.003,0.0035,0.004,0.0045,0.005,0.0055,0.006,0.0065,0.007,0.0075,0.008,0.0085,0.009,0.0095],"format":".4~f","labelFontSize":8,"labelColor":"#222","tickSize":-3,"tickColor":"#444","domainColor":"#555","domainWidth":1.5,"labelPadding":5,"title":"Frequency, cycles/day","titleFontSize":7.5,"titleFontWeight":"normal","titleColor":"#222","titleX":868.7,"titleY":24,"titleAlign":"center","titleBaseline":"middle","zindex":1}},
   "x2":{"field":"x2"},
   "y":{"field":"y1","type":"quantitative","scale":{"domain":[0.451,1.553],"range":[355,190],"nice":false,"zero":false},
    "axis":{"orient":"left","offset":-690,"values":[0.5,0.6,0.7,0.8,0.9,1,1.1,1.2,1.3,1.4,1.5],"format":".1f","labelFontSize":8,"labelColor":"#222","tickSize":-3,"tickColor":"#444","domainColor":"#555","domainWidth":1.5,"labelPadding":9,"title":"Theta","titleFontSize":7,"titleFontWeight":"normal","titleColor":"#222","titleX":-30,"titleY":265,"titleAngle":-90,"titleAlign":"center","titleBaseline":"middle","zindex":1}},
   "y2":{"field":"y2"}
  }},
 {"data":{"name":"th"},
  "mark":{"type":"line","color":"#151515","strokeWidth":2},
  "encoding":{
   "x":{"field":"f","type":"quantitative","axis":{"orient":"top","offset":-190,"values":[0.0025,0.003,0.0035,0.004,0.0045,0.005,0.0055,0.006,0.0065,0.007,0.0075,0.008,0.0085,0.009,0.0095],"labelExpr":"replace(format(1/datum.value,'.2f'), regexp('0$'), '')","labelFontSize":8,"labelColor":"#222","tickSize":-3,"tickColor":"#444","domainColor":"#555","domainWidth":1.5,"labelPadding":6,"title":null,"zindex":1}},
   "y":{"field":"t","type":"quantitative","axis":{"orient":"right","offset":293,"values":[0.5,1,1.5],"labels":false,"ticks":false,"domainColor":"#555","domainWidth":1.5,"title":null,"zindex":1}}
  }}
 ],
 "resolve":{"scale":{"x":"shared","y":"shared"},"axis":{"x":"independent","y":"independent"}}
}
],
"resolve":{"scale":{"x":"independent","y":"independent"},"axis":{"x":"independent","y":"independent"}}
}
